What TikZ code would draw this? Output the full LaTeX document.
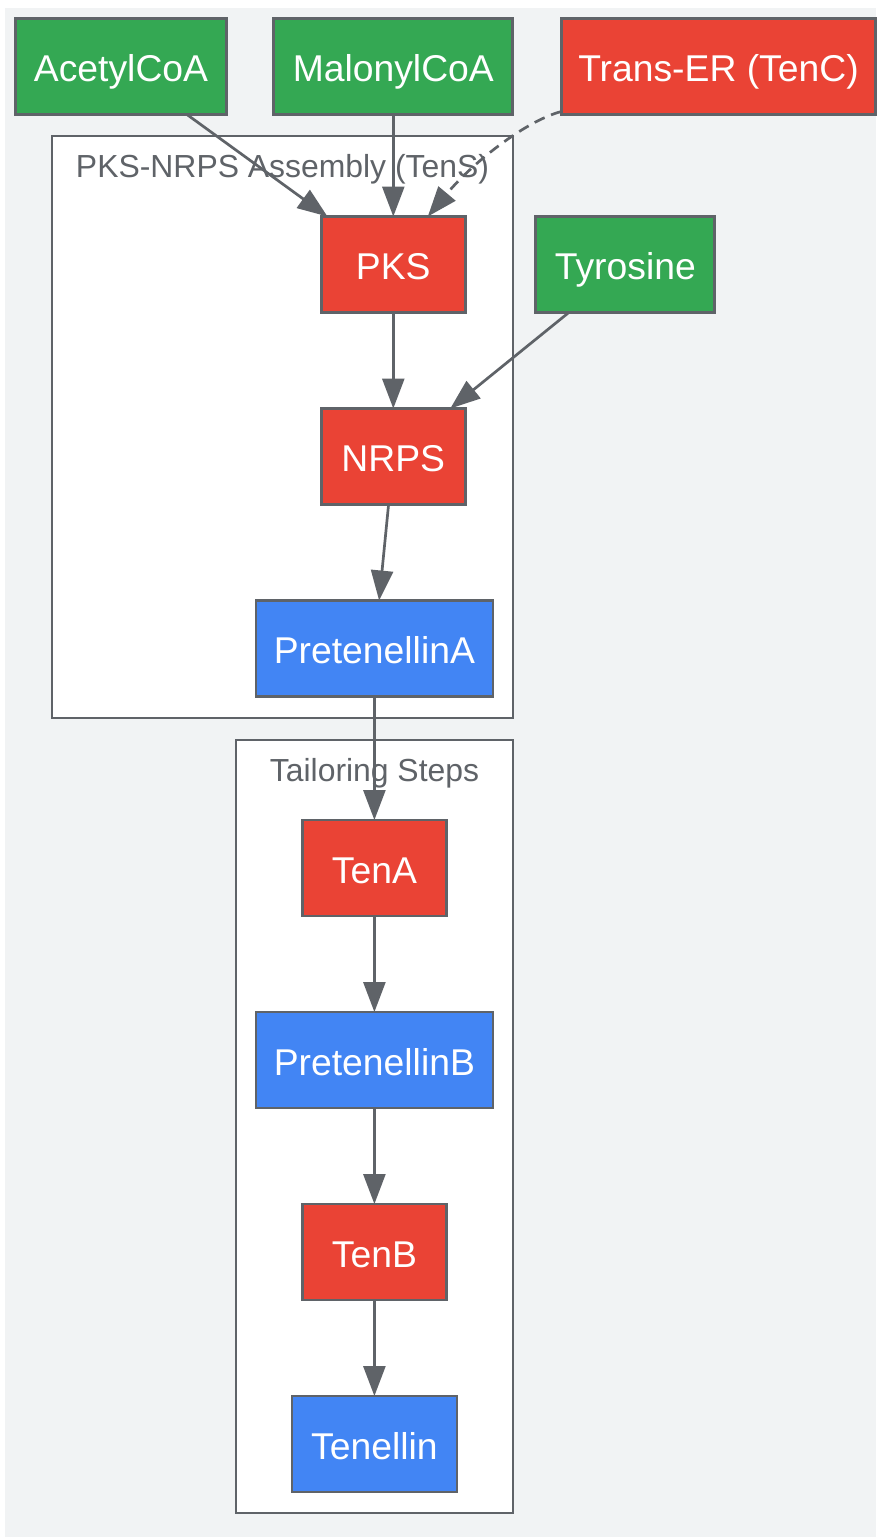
\documentclass[tikz,border=0pt]{standalone}
\usepackage{fontspec}
\setmainfont{Liberation Sans}
\usetikzlibrary{arrows.meta,calc}
\definecolor{cgreen}{HTML}{34A853}
\definecolor{cred}{HTML}{EA4335}
\definecolor{cblue}{HTML}{4285F4}
\definecolor{cstroke}{HTML}{5F6368}
\definecolor{cbg}{HTML}{F1F3F4}
\tikzset{
  box/.style={draw=cstroke,line width=2.8pt,rectangle,inner sep=0pt,outer sep=0pt,minimum height=96pt,
    text=white,font=\fontsize{37.3}{40}\selectfont,text height=29pt,text depth=0pt,align=center},
  greenbox/.style={box,fill=cgreen},
  redbox/.style={box,fill=cred},
  bluebox/.style={box,fill=cblue},
  lowerrow/.style={text height=31pt},
  cluster/.style={draw=cstroke,line width=2.8pt,fill=white,rectangle,inner sep=0pt,outer sep=0pt},
  clusterlabel/.style={text=cstroke,font=\fontsize{31.9}{34}\selectfont,anchor=base,inner sep=0pt},
  edge/.style={draw=cstroke,line width=2.7pt,-{Triangle[length=30pt,width=22pt]}},
  dashededge/.style={edge,dash pattern=on 11pt off 7pt}
}
\begin{document}
\begin{tikzpicture}[x=1pt,y=-1pt]
\useasboundingbox (0,0) rectangle (876,1537);
\fill[white] (0,0) rectangle (876,1537);
\fill[cbg] (5,8) rectangle (876,1537);
\node[cluster,minimum width=461pt,minimum height=582pt] (assembly) at (282.5,427) {};
\node[cluster,minimum width=277pt,minimum height=773pt] (tailoring) at (374.5,1126.5) {};
\node[clusterlabel] (assemblylabel) at (282.5,177) {PKS-NRPS Assembly (TenS)};
\node[clusterlabel] (tailoringlabel) at (374.5,781.5) {Tailoring Steps};
\node[greenbox,minimum width=211pt] (acetyl) at (121,66.5) {AcetylCoA};
\node[greenbox,minimum width=239pt] (malonyl) at (393.3,66.5) {MalonylCoA};
\node[redbox,minimum width=314pt] (trans) at (718.5,66.5) {Trans-ER (TenC)};
\node[redbox,minimum width=144pt] (pks) at (393.3,264.5) {PKS};
\node[greenbox,minimum width=179pt] (tyrosine) at (625.3,264.5) {Tyrosine};
\node[redbox,minimum width=144pt] (nrps) at (393.3,456.5) {NRPS};
\node[bluebox,minimum width=237pt] (preA) at (374.4,648.5) {PretenellinA};
\node[redbox,lowerrow,minimum width=144pt] (tena) at (374.4,868) {TenA};
\node[bluebox,lowerrow,minimum width=237pt] (preB) at (374.4,1060) {PretenellinB};
\node[redbox,lowerrow,minimum width=144pt] (tenb) at (374.4,1252) {TenB};
\node[bluebox,lowerrow,minimum width=165pt] (tenellin) at (374.4,1444) {Tenellin};
\draw[edge] (acetyl) -- (pks);
\draw[edge] (malonyl) -- (pks);
\draw[dashededge] ($(trans.south west)+(0,-3)$) .. controls (528,120) and (475,160) .. ($(pks.north)+(34.5,0)$);
\draw[edge] (pks) -- (nrps);
\draw[edge] ($(tyrosine.south)+(-56.5,0)$) -- ($(nrps.north)+(57,0)$);
\draw[edge] (nrps) -- (preA);
\draw[edge] (preA) -- (tena);
\draw[edge] (tena) -- (preB);
\draw[edge] (preB) -- (tenb);
\draw[edge] (tenb) -- (tenellin);
\end{tikzpicture}
\end{document}
